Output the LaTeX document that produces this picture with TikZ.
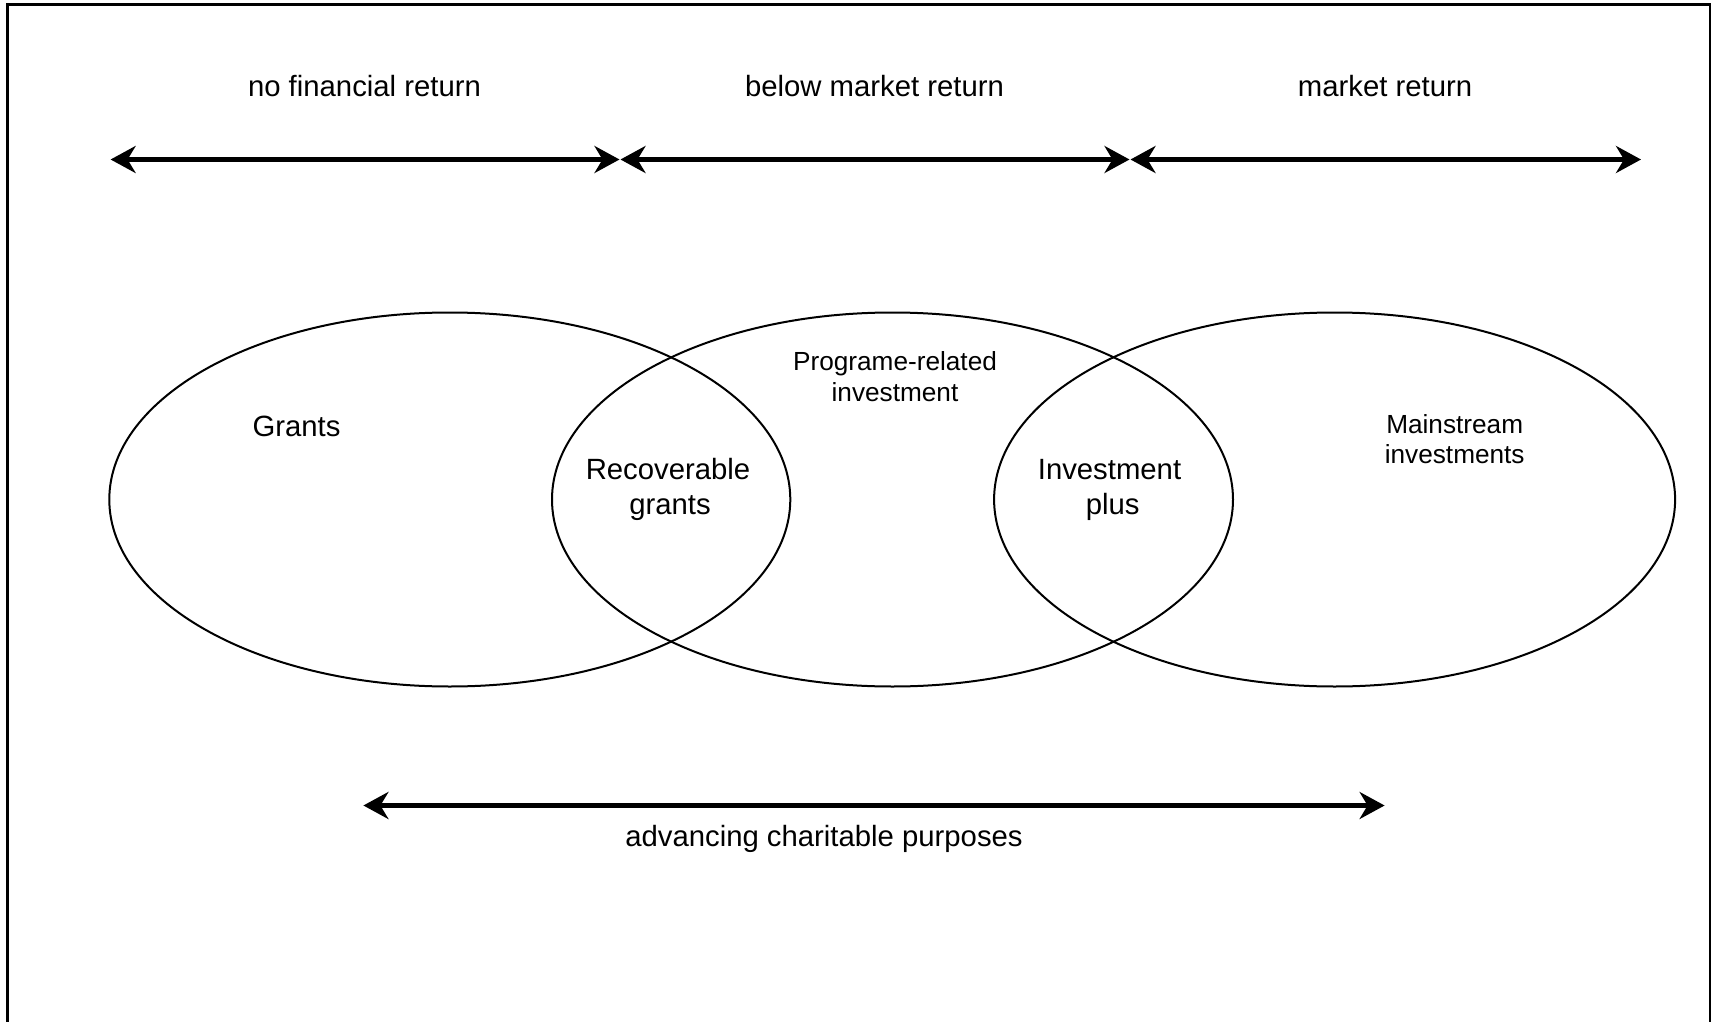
\documentclass[tikz,border=0pt]{standalone}
\usepackage{fontspec}
\setmainfont{Liberation Sans}
\usetikzlibrary{arrows.meta,shapes.geometric}
\begin{document}
\begin{tikzpicture}[x=1pt,y=-1pt,
  big/.style={font=\fontsize{29.3}{35}\selectfont, anchor=base, inner sep=0pt},
  small/.style={font=\fontsize{26.2}{31}\selectfont, anchor=base, inner sep=0pt},
  venn/.style={draw, ellipse, line width=2pt, minimum width=681pt, minimum height=374pt, inner sep=0pt},
  scalearrow/.style={line width=4.5pt, {Stealth[length=25pt,width=27pt,inset=8pt]}-{Stealth[length=25pt,width=27pt,inset=8pt]}}]
\useasboundingbox (0,0) rectangle (1714,1022);
% frame
\draw[line width=2.5pt] (7.5,1040) -- (7.5,4.5) -- (1710,4.5) -- (1710,1040);
% top labels
\node[big] (nfr) at (364.5,96.7) {no financial return};
\node[big] (bmr) at (874.5,96.7) {below market return};
\node[big] (mr) at (1385,96.7) {market return};
% top arrows
\coordinate (a0) at (110.6,159.5);
\coordinate (a1) at (619.5,159.5);
\coordinate (a2) at (620.5,159.5);
\coordinate (a3) at (1129.5,159.5);
\coordinate (a4) at (1130.5,159.5);
\coordinate (a5) at (1641,159.5);
\draw[scalearrow] (a0) -- (a1);
\draw[scalearrow] (a2) -- (a3);
\draw[scalearrow] (a4) -- (a5);
% ellipses
\node[venn] (e1) at (449.8,499.5) {};
\node[venn] (e2) at (892.5,499.5) {};
\node[venn] (e3) at (1334.6,499.5) {};
% ellipse texts
\node[big] (grants) at (296.5,436.5) {Grants};
\node[big] (rec1) at (668,479) {Recoverable};
\node[big] (rec2) at (670,514) {grants};
\node[big] (inv1) at (1109.5,479) {Investment};
\node[big] (inv2) at (1112.7,514) {plus};
\node[small] (pri1) at (895,370) {Programe-related};
\node[small] (pri2) at (895,401) {investment};
\node[small] (ms1) at (1454.7,433.3) {Mainstream};
\node[small] (ms2) at (1454.7,463.3) {investments};
% bottom arrow
\coordinate (b0) at (363.4,805.5);
\coordinate (b1) at (1384.6,805.5);
\draw[scalearrow] (b0) -- (b1);
\node[big] (acp) at (824,846) {advancing charitable purposes};
\end{tikzpicture}
\end{document}
